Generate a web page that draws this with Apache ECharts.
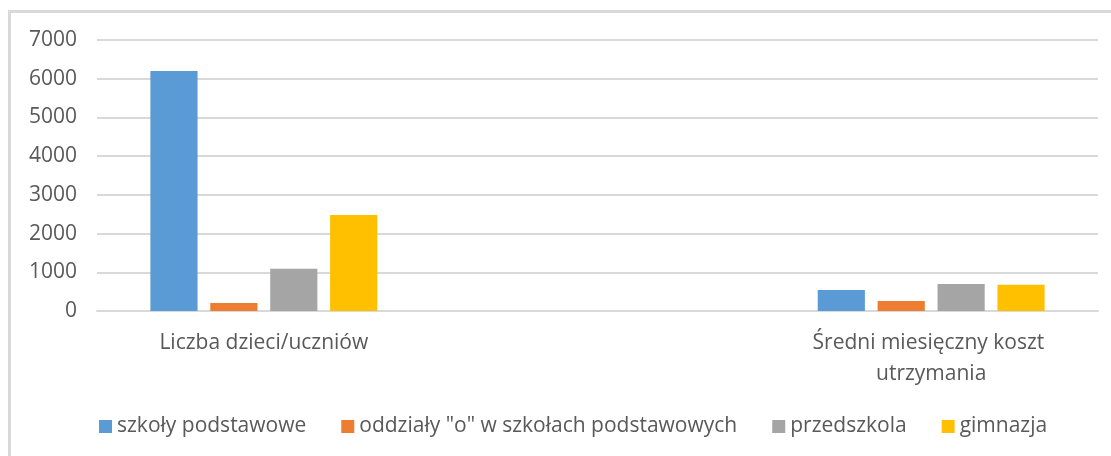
<!DOCTYPE html>
<html>
<head>
<meta charset="utf-8">
<script src="https://cdn.jsdelivr.net/npm/echarts@6/dist/echarts.min.js"></script>
<style>
    html, body { margin: 0; padding: 0; background: #fff; }
    #chart { width: 1111px; height: 456px; }
</style>
</head>
<body>
<div id="chart"></div>
<script>
// kategorie (środkowa pusta - tak jak w oryginale)
var categories = ['Liczba dzieci/uczniów', '', 'Średni miesięczny koszt utrzymania'];
var seriesNames = ['szkoły podstawowe', 'oddziały "o" w szkołach podstawowych', 'przedszkola', 'gimnazja'];
var szkolyPodstawowe = [6200, '-', 545];
var oddzialyO = [205, '-', 260];
var przedszkola = [1090, '-', 700];
var gimnazja = [2480, '-', 675];
var yTicks = [0, 1000, 2000, 3000, 4000, 5000, 6000, 7000];

var colors = ['#5B9BD5', '#ED7D31', '#A5A5A5', '#FFC000'];
var font = 'Open Sans';
var textColor = '#595959';

var chart = echarts.init(document.getElementById('chart'));

var values = [szkolyPodstawowe, oddzialyO, przedszkola, gimnazja];
var series = seriesNames.map(function (name, i) {
    return {
        name: name,
        type: 'bar',
        data: values[i],
        barGap: '27%',
        barCategoryGap: '32%',
        itemStyle: { color: colors[i] }
    };
});

var option = {
    animation: false,
    color: colors,
    graphic: [{
        type: 'rect',
        shape: { x: 9.5, y: 11.5, width: 1200, height: 600 },
        style: { fill: 'none', stroke: '#d9d9d9', lineWidth: 3 },
        silent: true
    }],
    legend: {
        data: seriesNames,
        left: 94,
        top: 411,
        icon: 'rect',
        itemWidth: 13,
        itemHeight: 13,
        itemGap: 35,
        textStyle: { color: textColor, fontFamily: font, fontSize: 21 }
    },
    grid: {
        left: 97,
        right: 13,
        top: 40,
        bottom: 145,
        containLabel: false
    },
    xAxis: {
        type: 'category',
        data: categories,
        axisLine: { lineStyle: { color: '#d9d9d9', width: 2 } },
        axisTick: { show: false },
        axisLabel: {
            color: textColor,
            fontFamily: font,
            fontSize: 21,
            margin: 17,
            lineHeight: 31,
            width: 270,
            overflow: 'break',
            interval: 0
        }
    },
    yAxis: {
        type: 'value',
        min: yTicks[0],
        max: yTicks[yTicks.length - 1],
        interval: 1000,
        axisLine: { show: false },
        axisTick: { show: false },
        splitLine: { lineStyle: { color: '#d9d9d9', width: 2 } },
        axisLabel: {
            color: textColor,
            fontFamily: font,
            fontSize: 21,
            margin: 20,
            formatter: function (v) { return String(v); }
        }
    },
    series: series
};

chart.setOption(option);
</script>
</body>
</html>
